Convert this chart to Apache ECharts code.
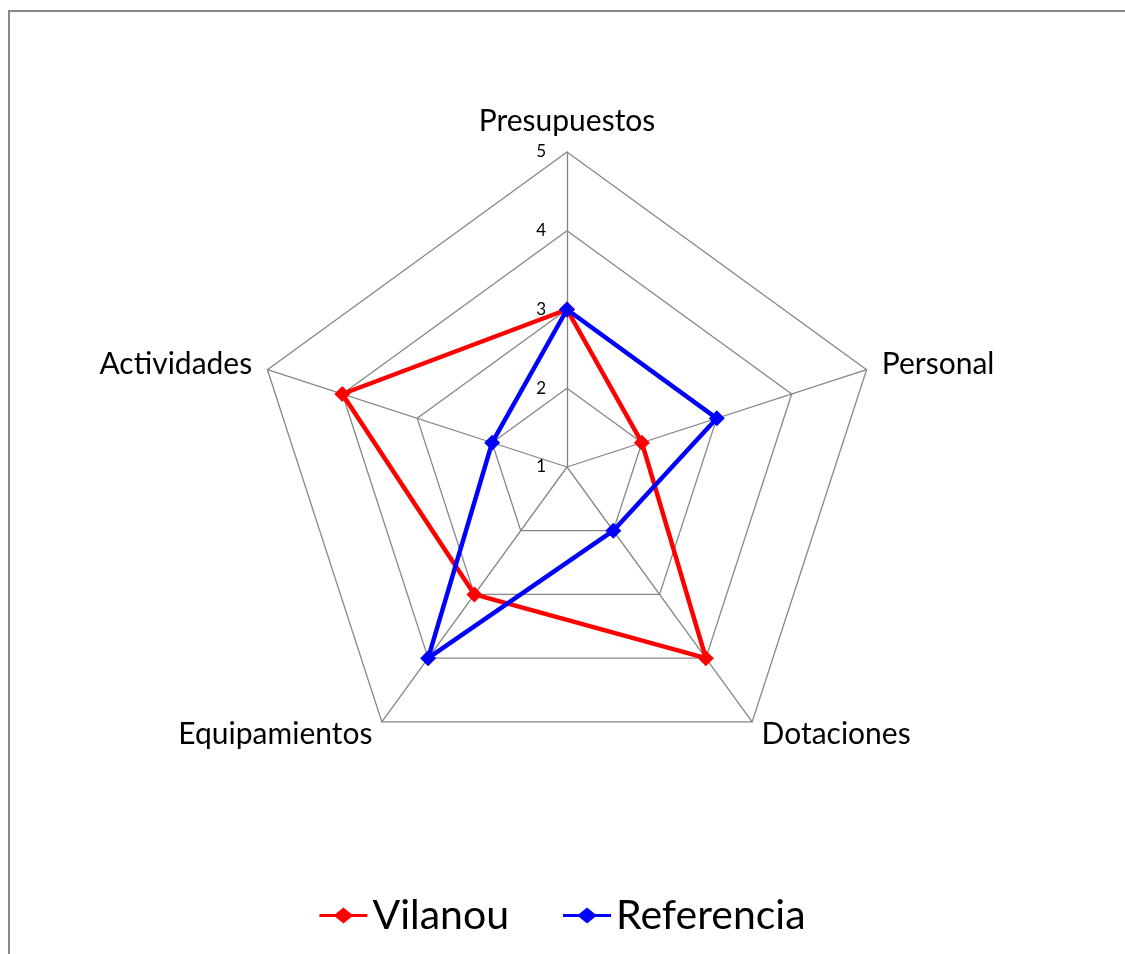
<!DOCTYPE html>
<html>
<head>
<meta charset="utf-8">
<script src="https://cdn.jsdelivr.net/npm/echarts@6/dist/echarts.min.js"></script>
<style>
  html, body { margin: 0; padding: 0; background: #fff; }
  #frame { position: absolute; left: 8px; top: 10px; width: 1200px; height: 1000px;
           border-top: 2px solid #8a8a8a; border-left: 2px solid #8a8a8a; box-sizing: border-box; }
  #chart { position: absolute; left: 0; top: 0; width: 1125px; height: 954px; }
</style>
</head>
<body>
<div id="frame"></div>
<div id="chart"></div>
<script>
// categories listed clockwise from the top, as in the reference
const categories = ['Presupuestos', 'Personal', 'Dotaciones', 'Equipamientos', 'Actividades'];
const seriesNames = ['Vilanou', 'Referencia'];
const vilanou = [3, 2, 4, 3, 4];
const referencia = [3, 3, 2, 4, 2];
const scaleMin = 1;
const scaleMax = 5;

// ECharts places radar indicators counter-clockwise; reorder to get clockwise layout
const order = [0, 4, 3, 2, 1];
const reorder = arr => order.map(i => arr[i]);

const FONT = 'Lato';
const legendIcon = 'path://M0,6.5L16,6.5L24,0L32,6.5L48,6.5L48,9.5L32,9.5L24,16L16,9.5L0,9.5Z';
const chart = echarts.init(document.getElementById('chart'));
chart.setOption({
  animation: false,
  backgroundColor: 'transparent',
  legend: {
    data: seriesNames.map(n => ({ name: n, icon: legendIcon })),
    left: 'center',
    top: 890,
    itemWidth: 48,
    itemHeight: 16,
    itemGap: 54,
    textStyle: { fontFamily: FONT, fontSize: 41, color: '#000' }
  },
  radar: {
    center: [567, 467],
    radius: 315,
    startAngle: 90,
    shape: 'polygon',
    splitNumber: 4,
    nameGap: 16,
    axisName: { color: '#000', fontFamily: FONT, fontSize: 30 },
    indicator: reorder(categories).map((c, i) => ({
      name: c, min: scaleMin, max: scaleMax,
      axisLabel: { show: i === 0 }
    })),
    axisLine: { lineStyle: { color: '#868686', width: 1.3 } },
    splitLine: { lineStyle: { color: '#868686', width: 1.3 } },
    splitArea: { show: false },
    axisTick: { show: false },
    axisLabel: { show: false, color: '#000', fontFamily: FONT, fontSize: 17, margin: 21,
                 showMinLabel: true, showMaxLabel: true }
  },
  series: [{
    type: 'radar',
    symbol: 'diamond',
    symbolSize: 16,
    data: [
      { name: seriesNames[0], value: reorder(vilanou),
        lineStyle: { color: '#ff0000', width: 4.5 }, itemStyle: { color: '#ff0000' } },
      { name: seriesNames[1], value: reorder(referencia),
        lineStyle: { color: '#0000ff', width: 4.5 }, itemStyle: { color: '#0000ff' } }
    ]
  }]
});
</script>
</body>
</html>
